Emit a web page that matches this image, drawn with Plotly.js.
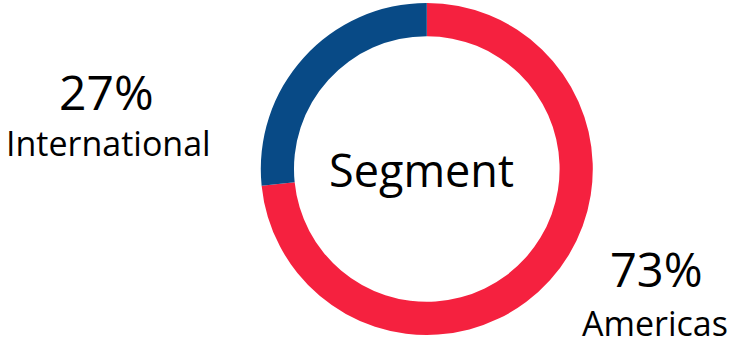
<!DOCTYPE html>
<html>
<head>
<meta charset="utf-8">
<script src="https://cdn.plot.ly/plotly-3.0.1.min.js"></script>
<style>
  html, body { margin: 0; padding: 0; background: #ffffff; }
  #chart { width: 731px; height: 347px; }
</style>
</head>
<body>
<div id="chart"></div>
<script>
const categories = ["Americas", "International"];
const values = [73.4, 26.6];
const colors = ["#F5213F", "#084A86"];
const centerLabel = "Segment";

const total = values.reduce((a, b) => a + b, 0);
const pct = values.map(v => Math.round(v / total * 100) + "%");

const FONT = "'Segoe UI', 'Open Sans', 'Noto Sans', sans-serif";

const trace = {
  type: "pie",
  labels: categories,
  values: values,
  sort: false,
  direction: "clockwise",
  rotation: 0,
  hole: 0.8,
  textinfo: "none",
  hoverinfo: "none",
  marker: { colors: colors, line: { width: 0 } },
  domain: { x: [0.3566, 0.8111], y: [0.0346, 0.9914] },
  showlegend: false
};

const layout = {
  width: 731,
  height: 347,
  margin: { l: 0, r: 0, t: 0, b: 0 },
  paper_bgcolor: "#ffffff",
  plot_bgcolor: "#ffffff",
  font: { family: FONT, color: "#000000" },
  showlegend: false,
  annotations: [
    { text: centerLabel, x: 0.576, y: 0.511, xref: "paper", yref: "paper",
      xanchor: "center", yanchor: "middle", showarrow: false,
      font: { family: FONT, size: 45, color: "#000000" } },
    { text: pct[1], x: 0.146, y: 0.737, xref: "paper", yref: "paper",
      xanchor: "center", yanchor: "middle", showarrow: false,
      font: { family: FONT, size: 48, color: "#000000" } },
    { text: categories[1], x: 0.149, y: 0.589, xref: "paper", yref: "paper",
      xanchor: "center", yanchor: "middle", showarrow: false,
      font: { family: FONT, size: 34, color: "#000000" } },
    { text: pct[0], x: 0.8984, y: 0.226, xref: "paper", yref: "paper",
      xanchor: "center", yanchor: "middle", showarrow: false, borderpad: 0,
      font: { family: FONT, size: 47, color: "#000000" } },
    { text: categories[0], x: 0.896, y: 0.0, xref: "paper", yref: "paper",
      xanchor: "center", yanchor: "bottom", showarrow: false, borderpad: 0,
      font: { family: FONT, size: 34, color: "#000000" } }
  ]
};

Plotly.newPlot("chart", [trace], layout, { displayModeBar: false, staticPlot: true });
</script>
</body>
</html>
